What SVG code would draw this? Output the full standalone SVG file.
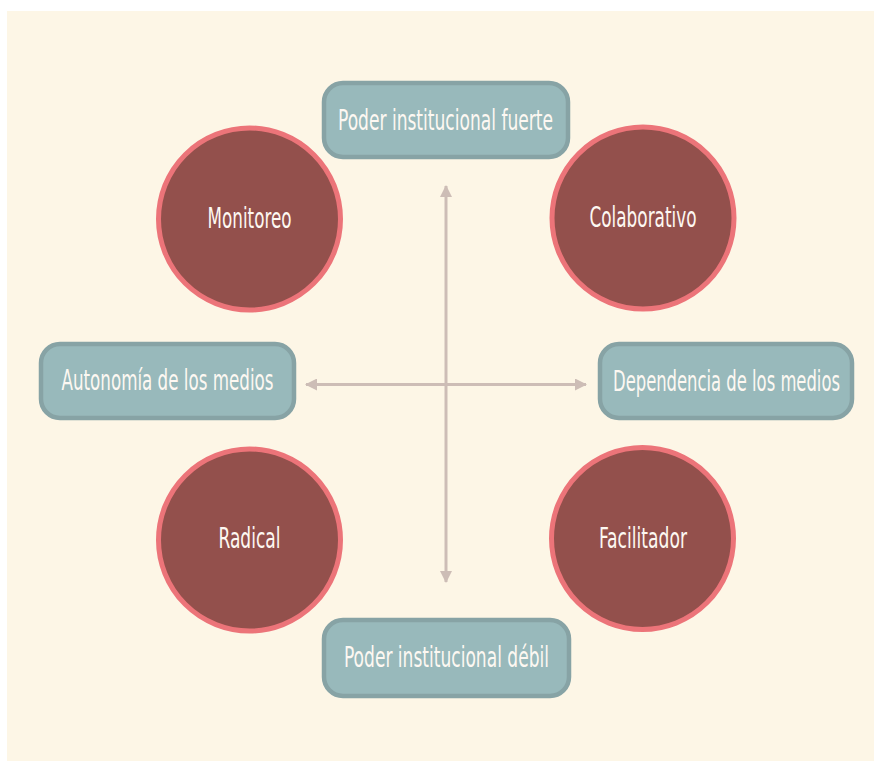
<svg xmlns="http://www.w3.org/2000/svg" width="874" height="761" viewBox="0 0 874 761">
<style>
.box{fill:#98b9bb;stroke:#87a3a5;stroke-width:4.5}
.circ{fill:#93504c;stroke:#ec7479;stroke-width:5}
.lbl{font-family:"Liberation Sans Narrow","DejaVu Sans Condensed","Liberation Sans",sans-serif;font-size:28px;fill:#fdf8f2;text-anchor:middle}
.axis{stroke:#cdbdb6;stroke-width:3;fill:none}
</style>
<defs>
<marker id="ah" viewBox="0 0 12 12" refX="11" refY="6" markerWidth="12" markerHeight="12" markerUnits="userSpaceOnUse" orient="auto-start-reverse">
<path d="M0,0 L12,6 L0,12 Z" fill="#cdbdb6"/>
</marker>
</defs>
<rect x="7" y="11" width="867" height="750" fill="#fdf6e6"/>
<g id="connectors">
<line class="axis" x1="446" y1="186" x2="446" y2="582" marker-start="url(#ah)" marker-end="url(#ah)"/>
<line class="axis" x1="306" y1="384.5" x2="586" y2="384.5" marker-start="url(#ah)" marker-end="url(#ah)"/>
</g>
<g id="node-fuerte">
<rect class="box" x="324" y="83" width="244" height="74" rx="19"/>
<text class="lbl" x="445.5" y="130" textLength="215" lengthAdjust="spacingAndGlyphs">Poder institucional fuerte</text>
</g>
<g id="node-debil">
<rect class="box" x="324" y="620" width="245" height="76" rx="19"/>
<text class="lbl" x="446.5" y="667" textLength="205" lengthAdjust="spacingAndGlyphs">Poder institucional débil</text>
</g>
<g id="node-autonomia">
<rect class="box" x="41" y="344" width="253" height="74" rx="19"/>
<text class="lbl" x="167.5" y="390" textLength="212" lengthAdjust="spacingAndGlyphs">Autonomía de los medios</text>
</g>
<g id="node-dependencia">
<rect class="box" x="600" y="344" width="252" height="74" rx="19"/>
<text class="lbl" x="726.5" y="391" textLength="227" lengthAdjust="spacingAndGlyphs">Dependencia de los medios</text>
</g>
<g id="node-monitoreo">
<circle class="circ" cx="249.5" cy="219" r="91"/>
<text class="lbl" x="249.5" y="228" textLength="84" lengthAdjust="spacingAndGlyphs">Monitoreo</text>
</g>
<g id="node-colaborativo">
<circle class="circ" cx="643" cy="218" r="91"/>
<text class="lbl" x="643" y="227" textLength="107" lengthAdjust="spacingAndGlyphs">Colaborativo</text>
</g>
<g id="node-radical">
<circle class="circ" cx="249.5" cy="540" r="91"/>
<text class="lbl" x="249.5" y="547.5" textLength="62" lengthAdjust="spacingAndGlyphs">Radical</text>
</g>
<g id="node-facilitador">
<circle class="circ" cx="642.5" cy="538.5" r="91"/>
<text class="lbl" x="643" y="547.5" textLength="88" lengthAdjust="spacingAndGlyphs">Facilitador</text>
</g>
</svg>
